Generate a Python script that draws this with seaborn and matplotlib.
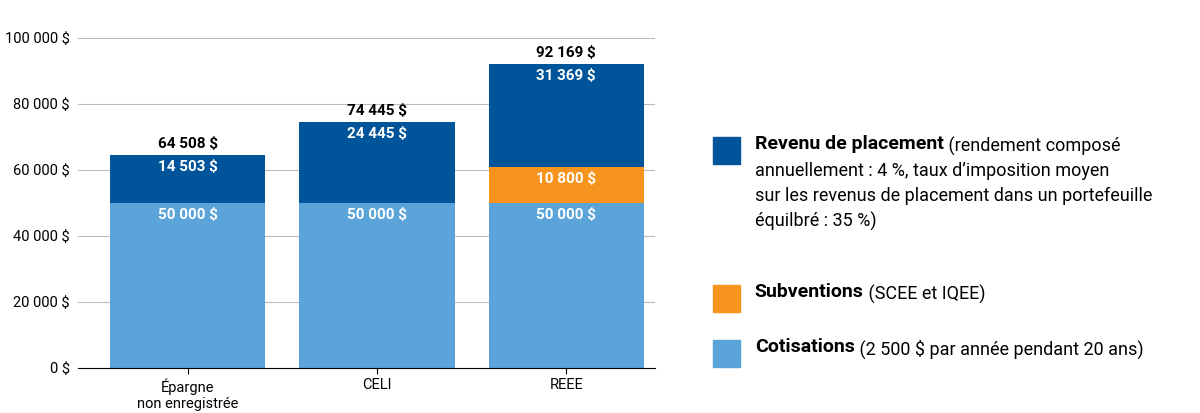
import numpy as np
import pandas as pd
import seaborn as sns
import matplotlib.pyplot as plt
from matplotlib.patches import Rectangle

plt.rcParams['font.family'] = ['Liberation Sans Narrow', 'Roboto', 'DejaVu Sans']

accounts = ['Épargne\nnon enregistrée', 'CELI', 'REEE']
cotisations = [50000, 50000, 50000]
subventions = [0, 0, 10800]
revenu = [14503, 24445, 31369]
totals = [64508, 74445, 92169]
yticks = [0, 20000, 40000, 60000, 80000, 100000]

c_light = '#5ba4da'
c_orange = '#f7941d'
c_dark = '#00559a'

def fmt(v):
    return f'{v:,}'.replace(',', ' ') + ' $'

df = pd.DataFrame({'compte': accounts, 'cot': cotisations, 'sub': subventions, 'rev': revenu})
bottom_rev = np.array(cotisations) + np.array(subventions)

fig = plt.figure(figsize=(12, 4.13), dpi=100)
ax = fig.add_axes([0.065, 0.109, 0.481, 0.799])
sns.barplot(data=df, x='compte', y='cot', color=c_light, width=0.82, saturation=1, ax=ax, zorder=2)
sns.barplot(data=df, x='compte', y='sub', color=c_orange, width=0.82, saturation=1, ax=ax,
            bottom=cotisations, zorder=2)
sns.barplot(data=df, x='compte', y='rev', color=c_dark, width=0.82, saturation=1, ax=ax,
            bottom=bottom_rev, zorder=2)

for i in range(len(accounts)):
    ax.text(i, cotisations[i] - 1500, fmt(cotisations[i]), ha='center', va='top',
            color='white', fontsize=11, fontweight='bold')
    if subventions[i]:
        ax.text(i, bottom_rev[i] - 1500, fmt(subventions[i]), ha='center', va='top',
                color='white', fontsize=11, fontweight='bold')
    ax.text(i, totals[i] - 1500, fmt(revenu[i]), ha='center', va='top',
            color='white', fontsize=11, fontweight='bold')
    ax.text(i, totals[i] + 1200, fmt(totals[i]), ha='center', va='bottom',
            color='black', fontsize=11, fontweight='bold')

ax.set_xlim(-0.58, 2.47)
ax.set_ylim(0, 100000)
ax.set_yticks(yticks)
ax.set_yticklabels([fmt(v) for v in yticks], fontsize=10.5)
ax.tick_params(axis='x', labelsize=10.5, length=4)
ax.tick_params(axis='y', length=0, pad=6)
ax.grid(axis='y', color='#bbbbbb', linewidth=0.8, zorder=0)
ax.set_xlabel('')
ax.set_ylabel('')
for s in ['top', 'right', 'left']:
    ax.spines[s].set_visible(False)
ax.spines['bottom'].set_color('black')

# legend
legend_items = [
    (c_dark, 0.668, 'Revenu de placement', ' (rendement composé\nannuellement : 4 %, taux d\u2019imposition moyen\nsur les revenus de placement dans un portefeuille\néquilbré : 35 %)'),
    (c_orange, 0.310, 'Subventions', ' (SCEE et IQEE)'),
    (c_light, 0.177, 'Cotisations', ' (2 500 $ par année pendant 20 ans)'),
]
for color, ytop, bold, rest in legend_items:
    fig.patches.append(Rectangle((0.594, ytop - 0.066), 0.023, 0.066, color=color,
                                 transform=fig.transFigure, figure=fig))
    t = fig.text(0.629, ytop + 0.005, bold, fontsize=14, fontweight='bold', va='top')
    fig.canvas.draw()
    bb = t.get_window_extent().transformed(fig.transFigure.inverted())
    lines = rest.split('\n')
    fig.text(bb.x1, ytop, lines[0], fontsize=13, va='top')
    for k, ln in enumerate(lines[1:]):
        fig.text(0.629, ytop - 0.06 * (k + 1), ln, fontsize=13, va='top')

fig.savefig('out.png', dpi=100)
